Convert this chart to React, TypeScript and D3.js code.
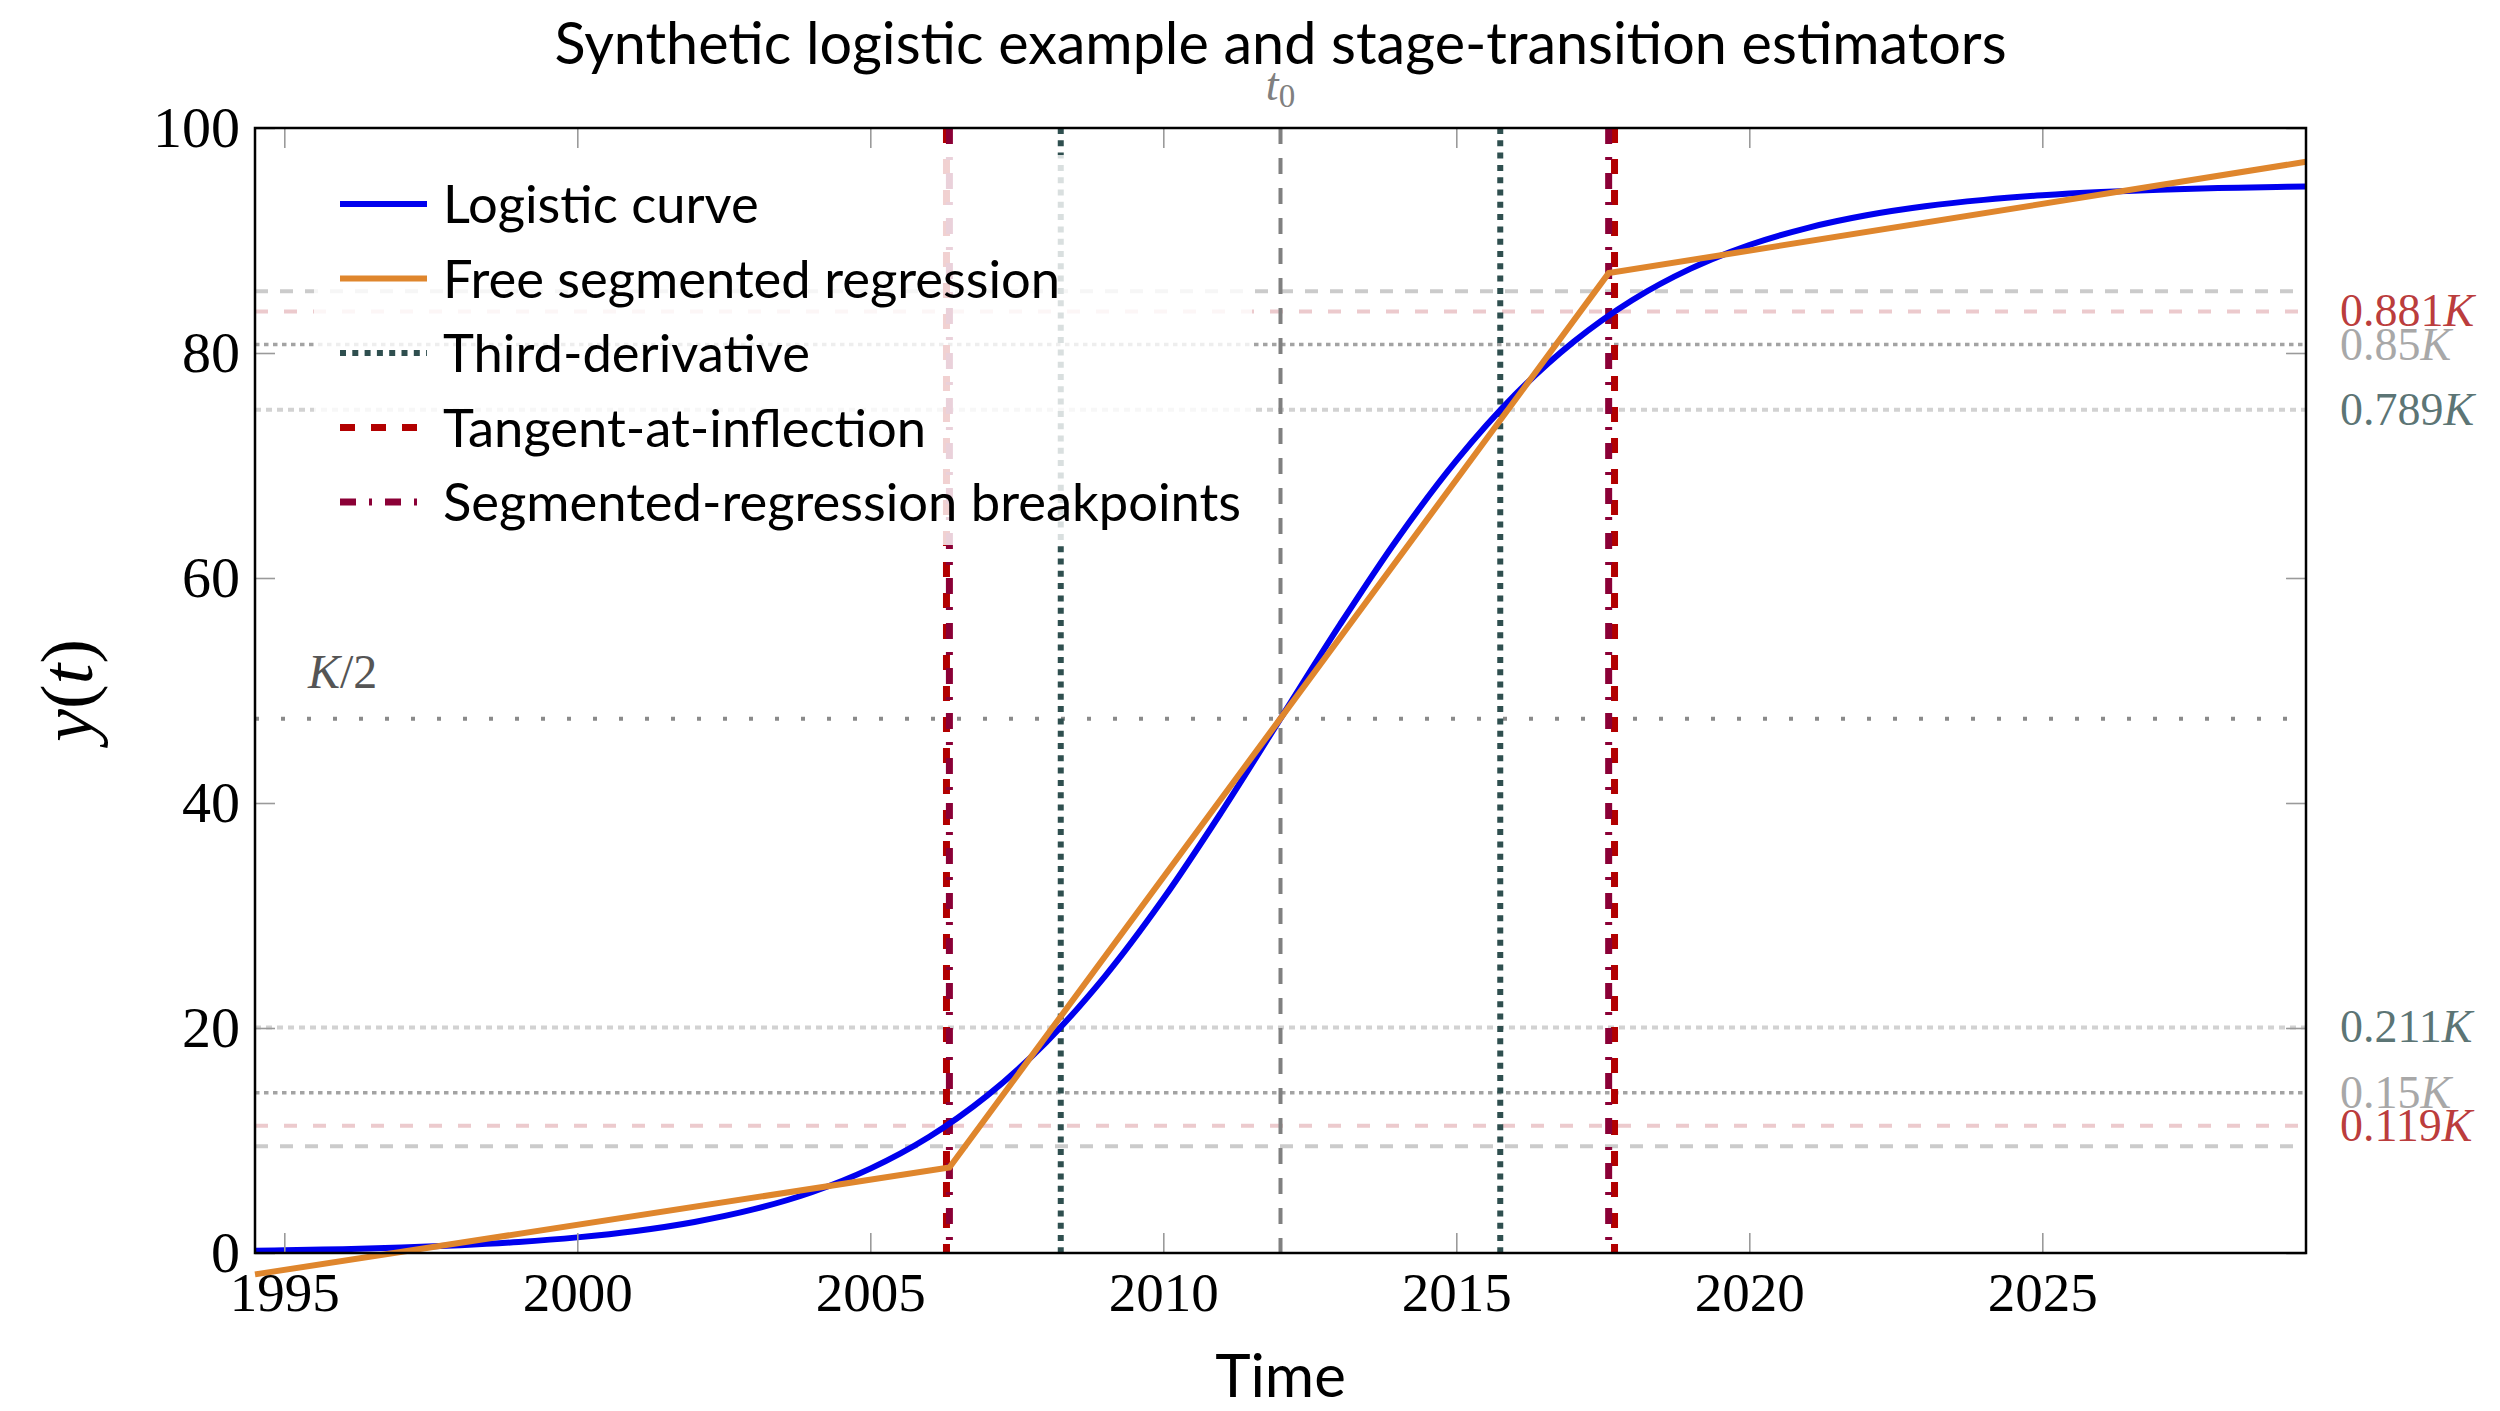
import React, { useEffect, useRef } from 'react';
import * as d3 from 'd3';

// Logistic curve sampled along the time axis
const years = [
  1994.5, 1995, 1996, 1997, 1998, 1999, 2000, 2001, 2002, 2003, 2004, 2005, 2006, 2007, 2008, 2009, 2010, 2011,
  2012, 2013, 2014, 2015, 2016, 2017, 2018, 2019, 2020, 2021, 2022, 2023, 2024, 2025, 2026, 2027, 2028, 2029, 2029.5,
];
const logisticValues = [
  0.2, 0.24, 0.34, 0.49, 0.69, 0.98, 1.39, 1.96, 2.76, 3.87, 5.4, 7.5, 10.31, 14.01, 18.73, 24.57, 31.48, 39.26,
  47.5, 55.74, 63.52, 70.43, 76.27, 80.99, 84.69, 87.5, 89.6, 91.13, 92.24, 93.04, 93.61, 94.02, 94.31, 94.51, 94.66, 94.76, 94.8,
];

// Free segmented regression (three linear pieces)
const segmentYears = [1994.5, 2006.35, 2017.6, 2029.5];
const segmentValues = [-1.9, 7.6, 87.1, 97.0];

// Carrying capacity and stage-transition estimates
const K = 95;
const t0 = 2012;
const tangentYears = [2006.3, 2017.7];
const thirdDerivYears = [2008.25, 2015.75];
const breakpointYears = [2006.35, 2017.6];

// Horizontal reference levels as fractions of K
const bandLevels = [0.1, 0.9];
const tangentLevels = [0.119, 0.881];
const cutoffLevels = [0.15, 0.85];
const thirdLevels = [0.211, 0.789];
const halfLevel = 0.5;

const xTicks = [1995, 2000, 2005, 2010, 2015, 2020, 2025];
const yTicks = [0, 20, 40, 60, 80, 100];

const legendNames = [
  'Logistic curve',
  'Free segmented regression',
  'Third-derivative',
  'Tangent-at-inflection',
  'Segmented-regression breakpoints',
];

const W = 2500;
const H = 1411;
const box = { left: 255, right: 2306, top: 128, bottom: 1253 };

const SANS = 'Lato, "Open Sans", sans-serif';
const SERIF = '"Liberation Serif", "DejaVu Serif", serif';

const C = {
  blue: '#0000ee',
  orange: '#df862d',
  slate: '#2f4f4f',
  red: '#b20000',
  crimson: '#8b0036',
  t0: '#808080',
};

const lineStyles = {
  logistic: { stroke: C.blue, width: 6, dash: null as string | null },
  segmented: { stroke: C.orange, width: 6, dash: null as string | null },
  third: { stroke: C.slate, width: 6, dash: '6 6.3' },
  tangent: { stroke: C.red, width: 7, dash: '15 16' },
  breakpoint: { stroke: C.crimson, width: 7, dash: '16 13 3 13' },
};

const App: React.FC = () => {
  const svgRef = useRef<SVGSVGElement | null>(null);

  useEffect(() => {
    if (!svgRef.current) return;
    document.body.style.margin = '0';

    const svg = d3.select(svgRef.current)
      .attr('width', W)
      .attr('height', H)
      .attr('viewBox', `0 0 ${W} ${H}`)
      .style('display', 'block')
      .style('background', '#fff');

    const x = d3.scaleLinear().domain([1994.5, 2029.5]).range([box.left, box.right]);
    const y = d3.scaleLinear().domain([0, 100]).range([box.bottom, box.top]);

    const hline = (v: number, stroke: string, width: number, dash: string) => {
      svg.append('line')
        .attr('x1', box.left).attr('x2', box.right)
        .attr('y1', y(v)).attr('y2', y(v))
        .attr('stroke', stroke)
        .attr('stroke-width', width)
        .attr('stroke-dasharray', dash);
    };

    const vline = (t: number, style: { stroke: string; width: number; dash: string | null }) => {
      svg.append('line')
        .attr('x1', x(t)).attr('x2', x(t))
        .attr('y1', box.top).attr('y2', box.bottom)
        .attr('stroke', style.stroke)
        .attr('stroke-width', style.width)
        .attr('stroke-dasharray', style.dash);
    };

    // Reference levels
    bandLevels.forEach((f) => hline(f * K, '#cbcbcb', 4, '13 12'));
    tangentLevels.forEach((f) => hline(f * K, '#eccacd', 4, '13 16'));
    cutoffLevels.forEach((f) => hline(f * K, '#a3a3a3', 3.5, '4.5 4.5'));
    thirdLevels.forEach((f) => hline(f * K, '#d2d2d2', 4, '6 5'));
    hline(halfLevel * K, '#8a8a8a', 4, '4 22');

    // Vertical markers
    vline(t0, { stroke: C.t0, width: 4, dash: '16 14' });
    thirdDerivYears.forEach((t) => vline(t, lineStyles.third));
    tangentYears.forEach((t) => vline(t, lineStyles.tangent));
    breakpointYears.forEach((t) => vline(t, lineStyles.breakpoint));

    // Curves
    const logisticLine = d3.line<number>()
      .x((_, i) => x(years[i]))
      .y((d) => y(d))
      .curve(d3.curveCatmullRom);
    svg.append('path')
      .datum(logisticValues)
      .attr('d', logisticLine)
      .attr('fill', 'none')
      .attr('stroke', C.blue)
      .attr('stroke-width', 6);

    const segLine = d3.line<number>()
      .x((_, i) => x(segmentYears[i]))
      .y((d) => y(d));
    svg.append('path')
      .datum(segmentValues)
      .attr('d', segLine)
      .attr('fill', 'none')
      .attr('stroke', C.orange)
      .attr('stroke-width', 6)
      .attr('stroke-linejoin', 'miter');

    // Axes: inward gray ticks on all four sides
    const tickLen = 20;
    const styleAxis = (g: d3.Selection<SVGGElement, unknown, null, undefined>) => {
      g.select('.domain').remove();
      g.selectAll('.tick line').attr('stroke', '#9a9a9a').attr('stroke-width', 1.6);
    };

    const gx = svg.append('g')
      .attr('transform', `translate(0,${box.bottom})`)
      .call(d3.axisBottom(x).tickValues(xTicks).tickFormat(d3.format('d')).tickSizeInner(-tickLen).tickSizeOuter(0).tickPadding(19));
    styleAxis(gx);
    gx.selectAll('.tick text').attr('font-family', SERIF).attr('font-size', 55).attr('fill', '#000');

    const gxTop = svg.append('g')
      .attr('transform', `translate(0,${box.top})`)
      .call(d3.axisTop(x).tickValues(xTicks).tickFormat(() => '').tickSizeInner(-tickLen).tickSizeOuter(0));
    styleAxis(gxTop);

    const gy = svg.append('g')
      .attr('transform', `translate(${box.left},0)`)
      .call(d3.axisLeft(y).tickValues(yTicks).tickSizeInner(-tickLen).tickSizeOuter(0).tickPadding(15));
    styleAxis(gy);
    gy.selectAll('.tick text').attr('font-family', SERIF).attr('font-size', 58).attr('fill', '#000');

    const gyRight = svg.append('g')
      .attr('transform', `translate(${box.right},0)`)
      .call(d3.axisRight(y).tickValues(yTicks).tickFormat(() => '').tickSizeInner(-tickLen).tickSizeOuter(0));
    styleAxis(gyRight);

    svg.append('rect')
      .attr('x', box.left).attr('y', box.top)
      .attr('width', box.right - box.left).attr('height', box.bottom - box.top)
      .attr('fill', 'none').attr('stroke', '#000').attr('stroke-width', 2.5);

    // Labels for reference levels on the right
    const rightLabel = (f: number, color: string, opacity: number) => {
      const t = svg.append('text')
        .attr('x', 2340)
        .attr('y', y(f * K) + 15)
        .attr('font-family', SERIF)
        .attr('font-size', 46)
        .attr('fill', color)
        .attr('fill-opacity', opacity);
      t.append('tspan').text(String(f));
      t.append('tspan').attr('font-style', 'italic').text('K');
    };
    tangentLevels.forEach((f) => rightLabel(f, '#b22222', 0.88));
    cutoffLevels.forEach((f) => rightLabel(f, '#a8a8a8', 1));
    thirdLevels.forEach((f) => rightLabel(f, C.slate, 0.78));

    // K/2 label
    const kHalf = svg.append('text')
      .attr('x', 308)
      .attr('y', y(halfLevel * K) - 31)
      .attr('font-family', SERIF)
      .attr('font-size', 48)
      .attr('fill', '#555');
    kHalf.append('tspan').attr('font-style', 'italic').text('K');
    kHalf.append('tspan').text('/2');

    // t0 label above the frame
    const t0Label = svg.append('text')
      .attr('x', x(t0))
      .attr('y', 100)
      .attr('text-anchor', 'middle')
      .attr('font-family', SERIF)
      .attr('font-size', 46)
      .attr('fill', C.t0);
    t0Label.append('tspan').attr('font-style', 'italic').text('t');
    t0Label.append('tspan').attr('font-size', 33).attr('dy', 7).text('0');

    // Legend with translucent white backing
    const legend = svg.append('g');
    legend.append('rect')
      .attr('x', 314).attr('y', 155)
      .attr('width', 938).attr('height', 390)
      .attr('fill', '#fff').attr('fill-opacity', 0.82);

    const legendStyles = [
      lineStyles.logistic,
      lineStyles.segmented,
      lineStyles.third,
      lineStyles.tangent,
      lineStyles.breakpoint,
    ];
    legendNames.forEach((name, i) => {
      const cy = 204 + i * 74.5;
      const s = legendStyles[i];
      legend.append('line')
        .attr('x1', 340).attr('x2', 427)
        .attr('y1', cy).attr('y2', cy)
        .attr('stroke', s.stroke)
        .attr('stroke-width', s.width)
        .attr('stroke-dasharray', s.dash);
      legend.append('text')
        .attr('x', 443)
        .attr('y', cy + 19)
        .attr('font-family', SANS)
        .attr('font-size', 52.5)
        .attr('fill', '#000')
        .text(name);
    });

    // Title and axis titles
    svg.append('text')
      .attr('x', (box.left + box.right) / 2)
      .attr('y', 64)
      .attr('text-anchor', 'middle')
      .attr('font-family', SANS)
      .attr('font-size', 57.5)
      .attr('fill', '#000')
      .text('Synthetic logistic example and stage-transition estimators');

    svg.append('text')
      .attr('x', (box.left + box.right) / 2)
      .attr('y', 1397)
      .attr('text-anchor', 'middle')
      .attr('font-family', SANS)
      .attr('font-size', 60)
      .attr('fill', '#000')
      .text('Time');

    const yLabel = svg.append('text')
      .attr('transform', `translate(92,${(box.top + box.bottom) / 2}) rotate(-90)`)
      .attr('text-anchor', 'middle')
      .attr('font-family', SERIF)
      .attr('font-size', 74)
      .attr('fill', '#000');
    yLabel.append('tspan').attr('font-style', 'italic').text('y');
    yLabel.append('tspan').text('(');
    yLabel.append('tspan').attr('font-style', 'italic').text('t');
    yLabel.append('tspan').text(')');

    return () => { svg.selectAll('*').remove(); };
  }, []);

  return <svg ref={svgRef} />;
};

export default App;
